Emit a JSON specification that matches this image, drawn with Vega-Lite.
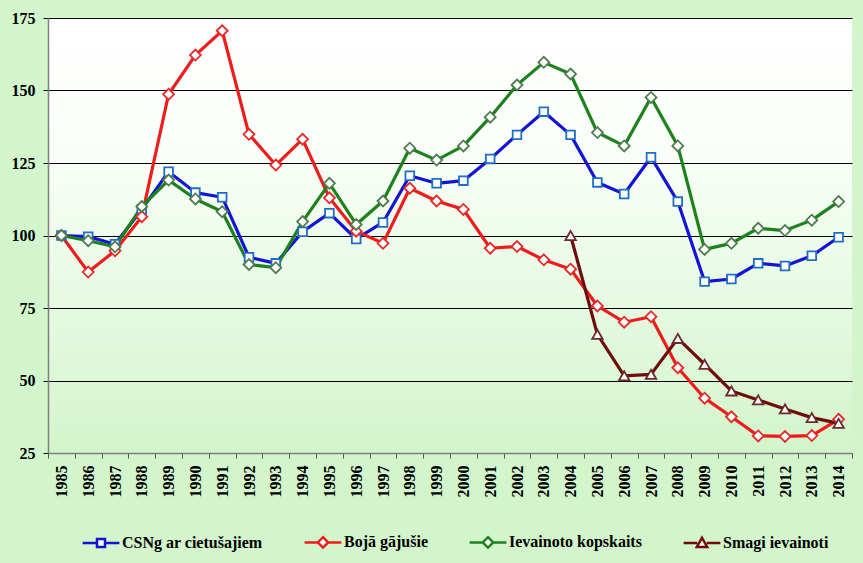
{
  "$schema": "https://vega.github.io/schema/vega-lite/v6.json",
  "width": 804,
  "height": 435,
  "autosize": {"type": "none"},
  "padding": {"left": 48, "top": 18, "right": 11, "bottom": 110},
  "background": "#d2f5cb",
  "config": {
    "font": "Liberation Serif",
    "view": {
      "stroke": null,
      "fill": {
        "gradient": "linear", "x1": 0, "y1": 0, "x2": 0, "y2": 1,
        "stops": [
          {"offset": 0, "color": "#ffffff"},
          {"offset": 0.28, "color": "#fbfffa"},
          {"offset": 1, "color": "#d2f5cb"}
        ]
      }
    }
  },
  "datasets": {
    "main": [
      {"year": 1985, "series": "CSNg ar cietušajiem", "value": 100},
      {"year": 1986, "series": "CSNg ar cietušajiem", "value": 99.6},
      {"year": 1987, "series": "CSNg ar cietušajiem", "value": 97},
      {"year": 1988, "series": "CSNg ar cietušajiem", "value": 109},
      {"year": 1989, "series": "CSNg ar cietušajiem", "value": 122},
      {"year": 1990, "series": "CSNg ar cietušajiem", "value": 114.8},
      {"year": 1991, "series": "CSNg ar cietušajiem", "value": 113.2},
      {"year": 1992, "series": "CSNg ar cietušajiem", "value": 92.5},
      {"year": 1993, "series": "CSNg ar cietušajiem", "value": 90.4},
      {"year": 1994, "series": "CSNg ar cietušajiem", "value": 101.3},
      {"year": 1995, "series": "CSNg ar cietušajiem", "value": 107.7},
      {"year": 1996, "series": "CSNg ar cietušajiem", "value": 98.8},
      {"year": 1997, "series": "CSNg ar cietušajiem", "value": 104.5},
      {"year": 1998, "series": "CSNg ar cietušajiem", "value": 120.6},
      {"year": 1999, "series": "CSNg ar cietušajiem", "value": 118},
      {"year": 2000, "series": "CSNg ar cietušajiem", "value": 118.9},
      {"year": 2001, "series": "CSNg ar cietušajiem", "value": 126.4},
      {"year": 2002, "series": "CSNg ar cietušajiem", "value": 134.7},
      {"year": 2003, "series": "CSNg ar cietušajiem", "value": 142.7},
      {"year": 2004, "series": "CSNg ar cietušajiem", "value": 134.7},
      {"year": 2005, "series": "CSNg ar cietušajiem", "value": 118.3},
      {"year": 2006, "series": "CSNg ar cietušajiem", "value": 114.3},
      {"year": 2007, "series": "CSNg ar cietušajiem", "value": 127},
      {"year": 2008, "series": "CSNg ar cietušajiem", "value": 111.7},
      {"year": 2009, "series": "CSNg ar cietušajiem", "value": 84.1},
      {"year": 2010, "series": "CSNg ar cietušajiem", "value": 85},
      {"year": 2011, "series": "CSNg ar cietušajiem", "value": 90.4},
      {"year": 2012, "series": "CSNg ar cietušajiem", "value": 89.5},
      {"year": 2013, "series": "CSNg ar cietušajiem", "value": 93},
      {"year": 2014, "series": "CSNg ar cietušajiem", "value": 99.4},

      {"year": 1985, "series": "Bojā gājušie", "value": 100},
      {"year": 1986, "series": "Bojā gājušie", "value": 87.4},
      {"year": 1987, "series": "Bojā gājušie", "value": 94.7},
      {"year": 1988, "series": "Bojā gājušie", "value": 106.5},
      {"year": 1989, "series": "Bojā gājušie", "value": 148.7},
      {"year": 1990, "series": "Bojā gājušie", "value": 162.2},
      {"year": 1991, "series": "Bojā gājušie", "value": 170.6},
      {"year": 1992, "series": "Bojā gājušie", "value": 134.9},
      {"year": 1993, "series": "Bojā gājušie", "value": 124.3},
      {"year": 1994, "series": "Bojā gājušie", "value": 133.2},
      {"year": 1995, "series": "Bojā gājušie", "value": 113},
      {"year": 1996, "series": "Bojā gājušie", "value": 101.5},
      {"year": 1997, "series": "Bojā gājušie", "value": 97.3},
      {"year": 1998, "series": "Bojā gājušie", "value": 116.3},
      {"year": 1999, "series": "Bojā gājušie", "value": 111.9},
      {"year": 2000, "series": "Bojā gājušie", "value": 109},
      {"year": 2001, "series": "Bojā gājušie", "value": 95.6},
      {"year": 2002, "series": "Bojā gājušie", "value": 96.2},
      {"year": 2003, "series": "Bojā gājušie", "value": 91.6},
      {"year": 2004, "series": "Bojā gājušie", "value": 88.4},
      {"year": 2005, "series": "Bojā gājušie", "value": 75.7},
      {"year": 2006, "series": "Bojā gājušie", "value": 70.1},
      {"year": 2007, "series": "Bojā gājušie", "value": 72},
      {"year": 2008, "series": "Bojā gājušie", "value": 54.4},
      {"year": 2009, "series": "Bojā gājušie", "value": 43.9},
      {"year": 2010, "series": "Bojā gājušie", "value": 37.5},
      {"year": 2011, "series": "Bojā gājušie", "value": 30.9},
      {"year": 2012, "series": "Bojā gājušie", "value": 30.7},
      {"year": 2013, "series": "Bojā gājušie", "value": 31},
      {"year": 2014, "series": "Bojā gājušie", "value": 36.6},

      {"year": 1985, "series": "Ievainoto kopskaits", "value": 100},
      {"year": 1986, "series": "Ievainoto kopskaits", "value": 98.2},
      {"year": 1987, "series": "Ievainoto kopskaits", "value": 96.1},
      {"year": 1988, "series": "Ievainoto kopskaits", "value": 110},
      {"year": 1989, "series": "Ievainoto kopskaits", "value": 119.1},
      {"year": 1990, "series": "Ievainoto kopskaits", "value": 112.6},
      {"year": 1991, "series": "Ievainoto kopskaits", "value": 108.2},
      {"year": 1992, "series": "Ievainoto kopskaits", "value": 90},
      {"year": 1993, "series": "Ievainoto kopskaits", "value": 88.9},
      {"year": 1994, "series": "Ievainoto kopskaits", "value": 104.8},
      {"year": 1995, "series": "Ievainoto kopskaits", "value": 118},
      {"year": 1996, "series": "Ievainoto kopskaits", "value": 103.8},
      {"year": 1997, "series": "Ievainoto kopskaits", "value": 111.9},
      {"year": 1998, "series": "Ievainoto kopskaits", "value": 130.1},
      {"year": 1999, "series": "Ievainoto kopskaits", "value": 126},
      {"year": 2000, "series": "Ievainoto kopskaits", "value": 130.9},
      {"year": 2001, "series": "Ievainoto kopskaits", "value": 140.8},
      {"year": 2002, "series": "Ievainoto kopskaits", "value": 151.9},
      {"year": 2003, "series": "Ievainoto kopskaits", "value": 159.7},
      {"year": 2004, "series": "Ievainoto kopskaits", "value": 155.7},
      {"year": 2005, "series": "Ievainoto kopskaits", "value": 135.5},
      {"year": 2006, "series": "Ievainoto kopskaits", "value": 130.9},
      {"year": 2007, "series": "Ievainoto kopskaits", "value": 147.6},
      {"year": 2008, "series": "Ievainoto kopskaits", "value": 130.9},
      {"year": 2009, "series": "Ievainoto kopskaits", "value": 95.2},
      {"year": 2010, "series": "Ievainoto kopskaits", "value": 97.3},
      {"year": 2011, "series": "Ievainoto kopskaits", "value": 102.5},
      {"year": 2012, "series": "Ievainoto kopskaits", "value": 101.7},
      {"year": 2013, "series": "Ievainoto kopskaits", "value": 105.3},
      {"year": 2014, "series": "Ievainoto kopskaits", "value": 111.7},

      {"year": 2004, "series": "Smagi ievainoti", "value": 100},
      {"year": 2005, "series": "Smagi ievainoti", "value": 65.9},
      {"year": 2006, "series": "Smagi ievainoti", "value": 51.6},
      {"year": 2007, "series": "Smagi ievainoti", "value": 52.1},
      {"year": 2008, "series": "Smagi ievainoti", "value": 64.5},
      {"year": 2009, "series": "Smagi ievainoti", "value": 55.6},
      {"year": 2010, "series": "Smagi ievainoti", "value": 46.4},
      {"year": 2011, "series": "Smagi ievainoti", "value": 43.3},
      {"year": 2012, "series": "Smagi ievainoti", "value": 40.2},
      {"year": 2013, "series": "Smagi ievainoti", "value": 37.2},
      {"year": 2014, "series": "Smagi ievainoti", "value": 35.2}
    ]
  },
  "data": {"name": "main"},
  "encoding": {
    "x": {
      "field": "year",
      "type": "ordinal",
      "bandPosition": 0.5,
      "scale": {"type": "band", "paddingInner": 0, "paddingOuter": 0},
      "axis": {
        "title": null,
        "labelAngle": -90,
        "labelFont": "Liberation Serif, Times New Roman, serif",
        "labelFontSize": 16,
        "labelFontWeight": "bold",
        "labelColor": "#000000",
        "labelPadding": 7,
        "tickBand": "extent",
        "tickSize": 5,
        "tickColor": "#555555",
        "domainColor": "#808080",
        "domainWidth": 1.5,
        "grid": false
      }
    },
    "y": {
      "field": "value",
      "type": "quantitative",
      "scale": {"domain": [25, 175], "nice": false, "zero": false},
      "axis": {
        "title": null,
        "values": [25, 50, 75, 100, 125, 150, 175],
        "labelFont": "Liberation Serif, Times New Roman, serif",
        "labelFontSize": 16,
        "labelFontWeight": "bold",
        "labelColor": "#000000",
        "labelPadding": 8,
        "tickSize": 5,
        "tickColor": "#000000",
        "domainColor": "#808080",
        "domainWidth": 1.5,
        "grid": true,
        "gridColor": "#000000",
        "gridWidth": 1,
        "gridOpacity": 1
      }
    }
  },
  "layer": [
    {
      "mark": {"type": "point", "size": 0, "filled": true, "fill": "#ffffff", "opacity": 1, "strokeWidth": 2.5},
      "encoding": {
        "stroke": {
          "field": "series",
          "type": "nominal",
          "scale": {
            "domain": ["CSNg ar cietušajiem", "Bojā gājušie", "Ievainoto kopskaits", "Smagi ievainoti"],
            "range": ["#1414d2", "#ee1c1c", "#1d821d", "#700c0c"]
          },
          "legend": {
            "title": null,
            "orient": "none",
            "legendX": 45,
            "legendY": 516,
            "direction": "horizontal",
            "columns": 4,
            "padding": 0,
            "symbolSize": 64,
            "symbolStrokeWidth": 2.5,
            "labelOffset": 13,
            "columnPadding": 36,
            "labelFont": "Liberation Serif, Times New Roman, serif",
            "labelFontSize": 16,
            "labelFontWeight": "bold",
            "labelColor": "#000000"
          }
        },
        "shape": {
          "field": "series",
          "type": "nominal",
          "scale": {
            "domain": ["CSNg ar cietušajiem", "Bojā gājušie", "Ievainoto kopskaits", "Smagi ievainoti"],
            "range": [
              "M-4.6,0L-1,0M1,0L4.6,0M-1,-1L1,-1L1,1L-1,1Z",
              "M-4.6,0L-1.3,0M1.3,0L4.6,0M0,-1.3L1.3,0L0,1.3L-1.3,0Z",
              "M-4.6,0L-1.3,0M1.3,0L4.6,0M0,-1.3L1.3,0L0,1.3L-1.3,0Z",
              "M-4.6,0L-1.2,0M1.2,0L4.6,0M0,-1.3L1.3,1L-1.3,1Z"
            ]
          },
          "legend": {
            "title": null,
            "orient": "none",
            "legendX": 45,
            "legendY": 516,
            "direction": "horizontal",
            "columns": 4,
            "padding": 0,
            "symbolSize": 64,
            "symbolStrokeWidth": 2.5,
            "labelOffset": 13,
            "columnPadding": 36,
            "labelFont": "Liberation Serif, Times New Roman, serif",
            "labelFontSize": 16,
            "labelFontWeight": "bold",
            "labelColor": "#000000"
          }
        }
      }
    },
    {
      "mark": {"type": "line", "strokeWidth": 3.2, "strokeJoin": "round"},
      "encoding": {
        "color": {
          "field": "series",
          "type": "nominal",
          "scale": {
            "domain": ["CSNg ar cietušajiem", "Bojā gājušie", "Ievainoto kopskaits", "Smagi ievainoti"],
            "range": ["#1414d2", "#ee1c1c", "#1d821d", "#700c0c"]
          },
          "legend": null
        }
      }
    },
    {
      "transform": [{"filter": "datum.series === 'CSNg ar cietušajiem'"}],
      "mark": {"type": "point", "shape": "square", "size": 75, "filled": true, "fill": "#ffffff", "stroke": "#1f6ec4", "strokeWidth": 1.8, "opacity": 1}
    },
    {
      "transform": [{"filter": "datum.series === 'Bojā gājušie'"}],
      "mark": {"type": "point", "shape": "diamond", "size": 120, "filled": true, "fill": "#ffffff", "stroke": "#e52a2a", "strokeWidth": 1.8, "opacity": 1}
    },
    {
      "transform": [{"filter": "datum.series === 'Ievainoto kopskaits'"}],
      "mark": {"type": "point", "shape": "diamond", "size": 120, "filled": true, "fill": "#ffffff", "stroke": "#4f7d4f", "strokeWidth": 1.8, "opacity": 1}
    },
    {
      "transform": [{"filter": "datum.series === 'Smagi ievainoti'"}],
      "mark": {"type": "point", "shape": "triangle-up", "size": 110, "filled": true, "fill": "#ffffff", "stroke": "#6e2a2a", "strokeWidth": 1.8, "opacity": 1}
    }
  ]
}
